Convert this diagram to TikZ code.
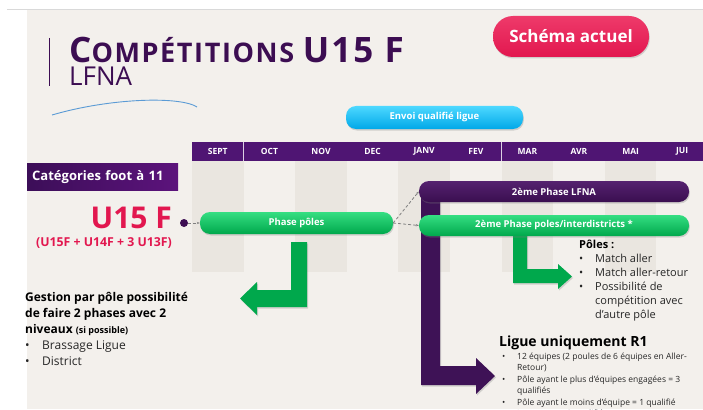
\documentclass[tikz,border=0pt]{standalone}
\usepackage{fontspec}
\setmainfont{Open Sans}
\usetikzlibrary{positioning,shadows,arrows.meta}
\definecolor{slidebg}{HTML}{F3F0EC}
\definecolor{stripe}{HTML}{EAE6E0}
\definecolor{titlepurple}{HTML}{3C0D52}
\definecolor{monthpurple}{HTML}{4F1573}
\definecolor{catdark}{HTML}{3C0E58}
\definecolor{catlight}{HTML}{5C137C}
\definecolor{crimson}{HTML}{E2174F}
\definecolor{crimsonlight}{HTML}{EE3A6A}
\definecolor{pgreen}{HTML}{00A84C}
\definecolor{pgreenlight}{HTML}{35DE82}
\definecolor{pcyan}{HTML}{00A8E8}
\definecolor{pcyanlight}{HTML}{4DD8FF}
\definecolor{lfnatop}{HTML}{55226F}
\definecolor{lfnabot}{HTML}{3A0E50}
\definecolor{arrowpurple}{HTML}{3E1256}
\definecolor{swoosh}{HTML}{5B9BD5}
\definecolor{bodytext}{HTML}{262626}
\newcommand{\bul}[1]{\makebox[#1][l]{\textbullet}}

\begin{document}
\begin{tikzpicture}[x=1pt,y=-1pt]
    \tikzstyle{pill}=[rounded corners=10pt, text=white, inner sep=0pt,
                      font=\bfseries\fontsize{9.5}{11}\selectfont,
                      drop shadow={opacity=0.3,shadow xshift=0.8pt,shadow yshift=-1.5pt}]
    \tikzstyle{greenpill}=[pill, top color=pgreenlight, bottom color=pgreen]
    \tikzstyle{month}=[text=white, fill=monthpurple, inner sep=0pt,
                       font=\bfseries\fontsize{8.5}{10}\selectfont,
                       minimum width=51.6pt, minimum height=19pt]
    \tikzstyle{link}=[densely dashed, gray, line width=0.8pt, -{Stealth[length=3pt]}]
    \tikzstyle{blockshadow}=[drop shadow={opacity=0.3,shadow xshift=1pt,shadow yshift=-1.5pt}]

    \useasboundingbox (0,0) rectangle (703,409);
    \fill[slidebg] (27,10) rectangle (703,409);
    \draw[gray!30, line width=0.8pt] (7,9.5) -- (703,9.5);

    % title
    \draw[titlepurple, line width=0.6pt] (49,38) -- (49,86);
    \node[anchor=base west, inner sep=0pt, text=titlepurple, font=\bfseries\addfontfeature{LetterSpace=6}] (title) at (69,63)
        {\fontsize{35}{35}\selectfont C\fontsize{27}{27}\selectfont OMPÉTITIONS \fontsize{35}{35}\selectfont U15 F};
    \node[anchor=base west, inner sep=0pt, text=titlepurple, font=\fontsize{26}{26}\selectfont] (lfna) at (69,86) {LFNA};
    \draw[swoosh, line width=0.9pt] (52,115) .. controls (110,98) and (180,96) .. (197,107);

    \node[pill, rounded corners=20pt, top color=crimsonlight, bottom color=crimson,
          minimum width=156pt, minimum height=41pt,
          font=\bfseries\fontsize{17}{20}\selectfont] (schema) at (571,36.5) {Schéma actuel};
    \node[pill, top color=pcyanlight, bottom color=pcyan,
          minimum width=177pt, minimum height=23pt] (envoi) at (434.5,117.5) {Envoi qualifié ligue};

    % months
    \foreach \m [count=\i] in {SEPT,OCT,NOV,DEC,JANV,FEV,MAR,AVR,MAI,JUI} {
        \ifodd\i
            \fill[stripe] ({192+(\i-1)*51.6},161) rectangle ({192+\i*51.6},272);
        \fi
        \node[month] (m\i) at ({192+(\i-0.5)*51.6},151.5) {\m};
        \draw[white!80!monthpurple, line width=0.8pt] (m\i.north east) -- (m\i.south east);
    }

    \node[anchor=north west, left color=catdark, right color=catlight, text=white,
          font=\bfseries\fontsize{13}{15}\selectfont, inner xsep=5pt,
          text width=141pt, minimum height=27pt] (cat) at (27,163) {Catégories foot à 11};
    \node[anchor=base east, inner sep=0pt, text=crimson, font=\bfseries\fontsize{30}{30}\selectfont] (u15) at (172,228) {U15 F};
    \node[anchor=base east, inner sep=0pt, text=crimson, font=\bfseries\fontsize{12.3}{13}\selectfont] (mix) at (172,246) {(U15F + U14F + 3 U13F)};
    \node[circle, fill=titlepurple, minimum size=8pt, inner sep=0pt] (dot) at (184,223) {};

    % block arrows
    \fill[arrowpurple, blockshadow] (421,196) -- (440,196) -- (440,366) -- (476,366) -- (476,358)
        -- (495,376) -- (476,394) -- (476,385) -- (421,385) -- cycle;
    \fill[pgreen, blockshadow] (291,242) -- (307,242) -- (307,307) -- (257,307) -- (257,315)
        -- (240,298.5) -- (257,282) -- (257,290) -- (291,290) -- cycle;
    \fill[pgreen, blockshadow] (513,230) -- (527,230) -- (527,269) -- (558,269) -- (558,264)
        -- (572,276.5) -- (558,289) -- (558,283) -- (513,283) -- cycle;

    \node[greenpill, minimum width=193pt, minimum height=22pt] (phase) at (296.5,223) {Phase pôles};
    \node[pill, top color=lfnatop, bottom color=lfnabot,
          minimum width=270pt, minimum height=21pt] (lfnabox) at (554,191.5) {2ème Phase LFNA};
    \node[greenpill, minimum width=270pt, minimum height=21pt] (polesbox) at (554,225.5) {2ème Phase poles/interdistricts *};

    \draw[link] (dot) -- (phase.west);
    \draw[link] (phase.east) -- (lfnabox.west);
    \draw[link] (phase.east) -- (polesbox.west);

    % texts
    \node[anchor=base west, inner sep=0pt, align=left, text=bodytext,
          font=\fontsize{11}{14}\selectfont] (polestxt) at (579,318)
        {\textbf{\textcolor{black}{Pôles :}}\\ \bul{16pt}Match aller\\ \bul{16pt}Match aller-retour\\
         \bul{16pt}Possibilité de\\ \hspace*{16pt}compétition avec\\ \hspace*{16pt}d'autre pôle};
    \node[anchor=base west, inner sep=0pt, align=left, text=black,
          font=\fontsize{12}{16}\selectfont] (gestion) at (25,365)
        {\textbf{Gestion par pôle possibilité}\\ \textbf{de faire 2 phases avec 2}\\
         \textbf{niveaux} {\bfseries\fontsize{9}{10}\selectfont (si possible)}\\
         \textcolor{bodytext}{\bul{17pt}Brassage Ligue}\\ \textcolor{bodytext}{\bul{17pt}District}};
    \node[anchor=base west, inner sep=0pt, text=black,
          font=\bfseries\fontsize{14}{16}\selectfont] (ligue) at (499,346) {Ligue uniquement R1};
    \node[below=3pt of ligue.south west, anchor=north west, inner sep=0pt, align=left, text=bodytext,
          font=\fontsize{8.5}{11.5}\selectfont] (liguetxt)
        {\hspace*{3pt}\bul{15pt}12 équipes (2 poules de 6 équipes en Aller-\\
         \hspace*{18pt}Retour)\\
         \hspace*{3pt}\bul{15pt}Pôle ayant le plus d'équipes engagées = 3\\
         \hspace*{18pt}qualifiés\\
         \hspace*{3pt}\bul{15pt}Pôle ayant le moins d'équipe = 1 qualifié\\
         \hspace*{3pt}\bul{15pt}Les autres = 2 qualifiés};
\end{tikzpicture}
\end{document}
